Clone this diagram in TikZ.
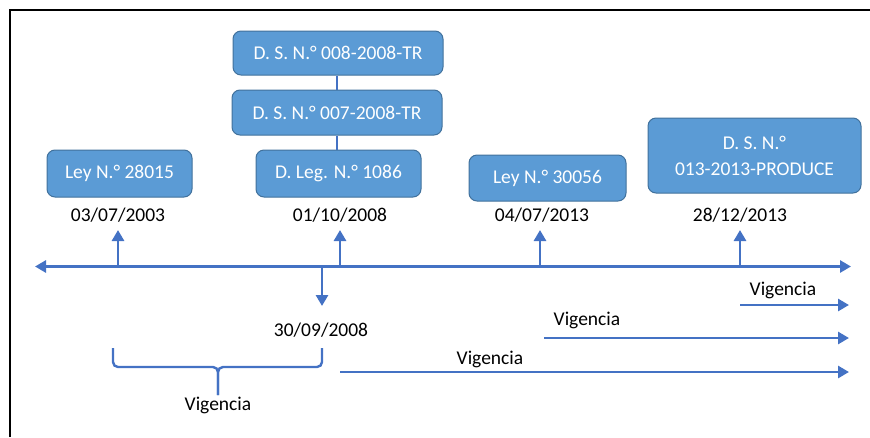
\documentclass[tikz,border=0pt]{standalone}
\usepackage{fontspec}
\setmainfont{Carlito}
\usetikzlibrary{arrows.meta}
\definecolor{boxfill}{HTML}{5B9BD5}
\definecolor{boxline}{HTML}{41719C}
\definecolor{axisblue}{HTML}{4472C4}
\tikzset{
  lawbox/.style={draw=boxline, line width=1pt, fill=boxfill, rounded corners=8pt, text=white, align=center, inner sep=0pt, font=\fontsize{19.5}{24}\selectfont},
  datelabel/.style={text=black, inner sep=0pt, font=\fontsize{19.5}{24}\selectfont},
  tl/.style={draw=axisblue, line width=2.8pt, -{Triangle[length=11pt,width=12pt]}},
  tlline/.style={draw=axisblue, line width=2.8pt},
  conn/.style={draw=axisblue, line width=2pt},
}
\begin{document}
\begin{tikzpicture}[x=1pt,y=-1pt]
\useasboundingbox (0,0) rectangle (870,437);
% frame
\draw[line width=2.2pt, black] (10,437) -- (10,10) -- (870,10);
% boxes
\node[lawbox, minimum width=145pt, minimum height=47pt] (ley1) at (119.5,173.5) {Ley N.° 28015};
\node[lawbox, minimum width=210pt, minimum height=44pt] (ds8) at (338,53) {D. S. N.° 008-2008-TR};
\node[lawbox, minimum width=210pt, minimum height=45pt] (ds7) at (337,112.5) {D. S. N.° 007-2008-TR};
\node[lawbox, minimum width=165pt, minimum height=47pt] (dleg) at (338.5,173.5) {D. Leg. N.° 1086};
\node[lawbox, minimum width=157pt, minimum height=46pt] (ley2) at (547.5,178) {Ley N.° 30056};
\node[lawbox, minimum width=213pt, minimum height=75pt] (ds13) at (754.5,155.5) {D. S. N.°\\[2pt]013-2013-PRODUCE};
\draw[conn] (ds8.south -| 337,0) -- (ds7.north -| 337,0);
\draw[conn] (ds7.south -| 337,0) -- (dleg.north -| 337,0);
% dates
\node[datelabel] (d1) at (118,215) {03/07/2003};
\node[datelabel] (d2) at (340,215) {01/10/2008};
\node[datelabel] (d3) at (542,215) {04/07/2013};
\node[datelabel] (d4) at (740,215) {28/12/2013};
\node[datelabel] (d5) at (321,330) {30/09/2008};
% axis
\coordinate (axL) at (35,266.5);
\coordinate (axR) at (851,266.5);
\coordinate (axM) at (440,266.5);
\draw[tl] (axM) -- (axL);
\draw[tl] (axM) -- (axR);
% ticks
\coordinate (a1) at (118,266.5);  \coordinate (u1) at (118,230);
\coordinate (a2) at (340,266.5);  \coordinate (u2) at (340,230);
\coordinate (a3) at (540,266.5);  \coordinate (u3) at (540,230);
\coordinate (a4) at (740,266.5);  \coordinate (u4) at (740,230);
\coordinate (a5) at (322,266.5);  \coordinate (u5) at (322,306);
\draw[tl] (a1) -- (u1);
\draw[tl] (a2) -- (u2);
\draw[tl] (a3) -- (u3);
\draw[tl] (a4) -- (u4);
\draw[tl] (a5) -- (u5);
% brace
\coordinate (bl) at (113,348);
\coordinate (br) at (322,348);
\coordinate (bm) at (218,367);
\coordinate (bt) at (218,395);
\draw[tlline, line width=2.4pt, rounded corners=5pt] (bl) -- (bl |- bm) -- (bm) -- (bt);
\draw[tlline, line width=2.4pt, rounded corners=5pt] (br) -- (br |- bm) -- (bm) -- (bt);
\node[datelabel] (vb) at (218,405) {Vigencia};
% vigencia arrows
\coordinate (v1s) at (740,305);  \coordinate (v1e) at (849,305);
\coordinate (v2s) at (544,338);  \coordinate (v2e) at (849,338);
\coordinate (v3s) at (340,372);  \coordinate (v3e) at (849,372);
\draw[tl] (v1s) -- (v1e);
\draw[tl] (v2s) -- (v2e);
\draw[tl] (v3s) -- (v3e);
\node[datelabel] (vl1) at (783,290) {Vigencia};
\node[datelabel] (vl2) at (587,320) {Vigencia};
\node[datelabel] (vl3) at (490,359) {Vigencia};
\end{tikzpicture}
\end{document}
